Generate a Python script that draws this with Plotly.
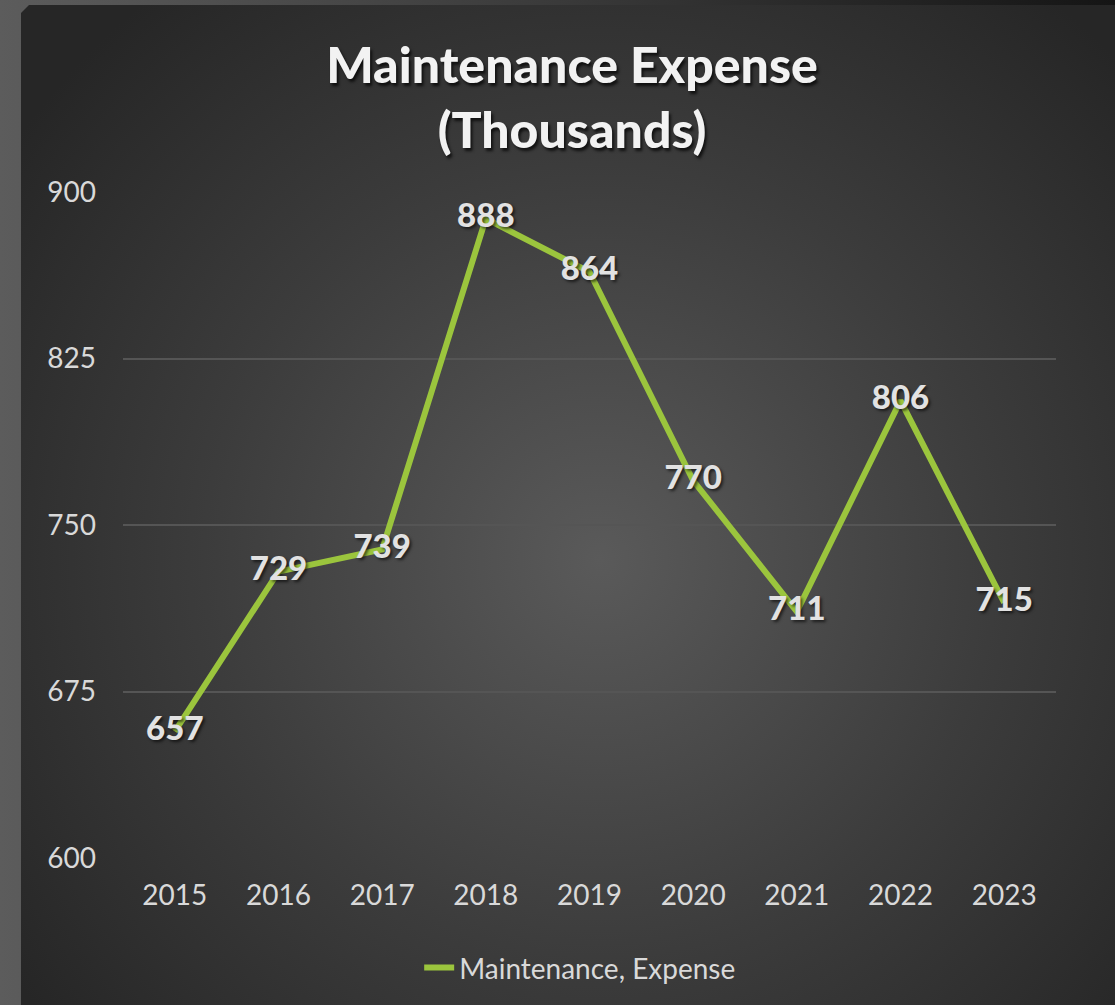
import base64
import plotly.graph_objects as go

years = ["2015", "2016", "2017", "2018", "2019", "2020", "2021", "2022", "2023"]
expense = [657, 729, 739, 888, 864, 770, 711, 806, 715]
y_ticks = [600, 675, 750, 825, 900]
series_name = "Maintenance, Expense"
title_lines = ["Maintenance Expense", "(Thousands)"]

W, H = 1115, 1005
L, R, T, B = 123, 59, 192, 147
pw, ph = W - L - R, H - T - B

svg = f'''<svg xmlns="http://www.w3.org/2000/svg" width="{W}" height="{H}" viewBox="0 0 {W} {H}">
<defs>
<linearGradient id="outer" x1="0" y1="0" x2="1" y2="0">
<stop offset="0" stop-color="#5c5c5c"/><stop offset="0.5" stop-color="#3a3a3a"/><stop offset="1" stop-color="#151515"/>
</linearGradient>
<radialGradient id="inner" cx="600" cy="560" r="720" gradientUnits="userSpaceOnUse">
<stop offset="0" stop-color="#5a5a5a"/><stop offset="0.55" stop-color="#3c3c3c"/><stop offset="1" stop-color="#262626"/>
</radialGradient>
</defs>
<rect x="0" y="0" width="{W}" height="{H}" fill="url(#outer)"/>
<path d="M29 5 L{W} 5 L{W} {H} L21 {H} L21 13 Z" fill="url(#inner)"/>
</svg>'''
src = "data:image/svg+xml;base64," + base64.b64encode(svg.encode()).decode()

fig = go.Figure()
fig.add_trace(go.Scatter(
    x=years, y=expense, name=series_name,
    mode="lines+text",
    line=dict(color="#9bc53d", width=6),
    text=[str(v) for v in expense],
    textposition="middle center",
    textfont=dict(family="Lato", size=33, color="#e2e2e2", weight=900,
                  shadow="2px 2px 3px rgba(0,0,0,0.6)"),
    showlegend=True,
))

fig.add_layout_image(dict(
    source=src, xref="paper", yref="paper",
    x=-L / pw, y=1 + T / ph, sizex=W / pw, sizey=H / ph,
    xanchor="left", yanchor="top", sizing="stretch", layer="below",
))

fig.update_layout(
    width=W, height=H,
    margin=dict(l=L, r=R, t=T, b=B, pad=0),
    paper_bgcolor="#2a2a2a",
    plot_bgcolor="rgba(0,0,0,0)",
    title=dict(
        text="<br>".join(title_lines),
        x=0.513, xanchor="center", y=0.9175, yanchor="middle",
        font=dict(family="Lato", size=50, color="#f2f2f2", weight=900,
                  shadow="2px 3px 3px rgba(0,0,0,0.7)"),
    ),
    xaxis=dict(
        type="category", range=[-0.5, 8.5],
        showgrid=False, zeroline=False, showline=False, ticks="",
        tickfont=dict(family="Lato", size=28, color="#d9d9d9"),
        ticklabelstandoff=18,
    ),
    yaxis=dict(
        range=[600, 900], tickvals=y_ticks,
        showgrid=True, gridcolor="#555555", gridwidth=2,
        zeroline=False, showline=False, ticks="",
        tickfont=dict(family="Lato", size=28, color="#d9d9d9"),
        ticklabelstandoff=26,
    ),
    legend=dict(
        orientation="h", x=0.49, xanchor="center", y=-0.165, yanchor="middle",
        font=dict(family="Lato", size=28, color="#d9d9d9"),
        bgcolor="rgba(0,0,0,0)",
    ),
)

fig.write_html("out.html", config={"displayModeBar": False},
               post_script="document.body.style.margin='0';document.body.style.overflow='hidden';")
